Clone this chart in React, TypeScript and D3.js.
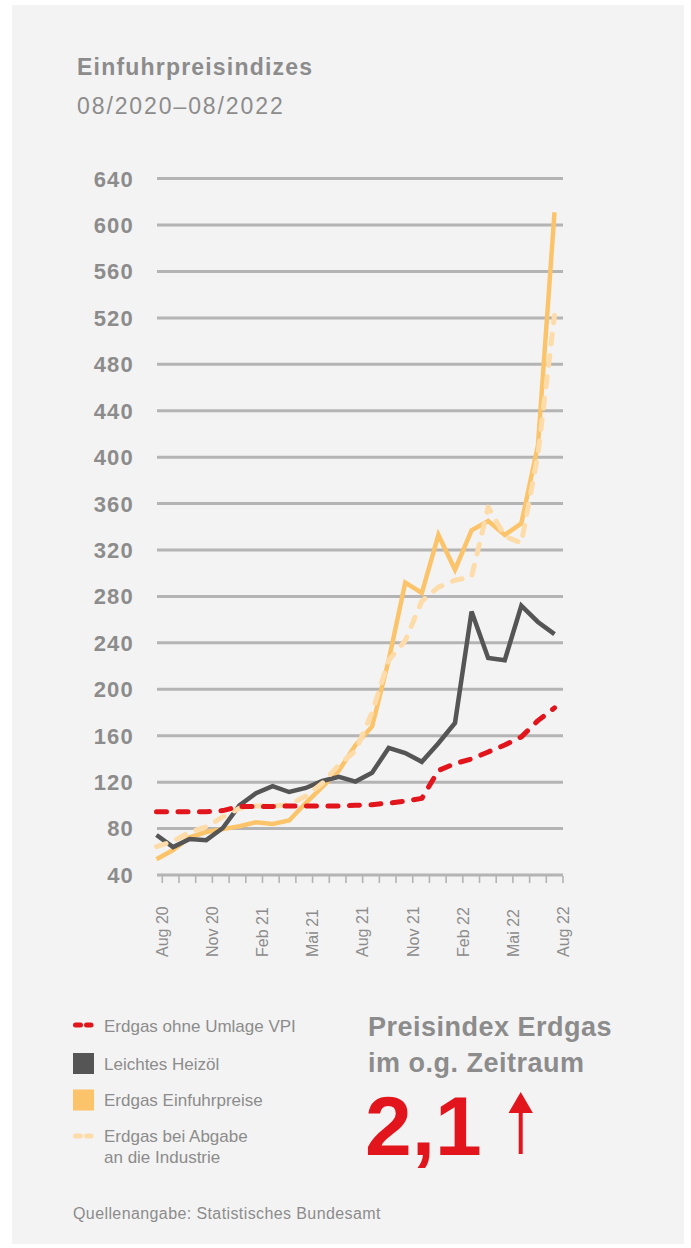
import React from "react";
import * as d3 from "d3";

const months = ["Aug 20","Sep 20","Okt 20","Nov 20","Dez 20","Jan 21","Feb 21","Mär 21","Apr 21","Mai 21","Jun 21","Jul 21","Aug 21","Sep 21","Okt 21","Nov 21","Dez 21","Jan 22","Feb 22","Mär 22","Apr 22","Mai 22","Jun 22","Jul 22","Aug 22"];
const tickLabels = ["Aug 20","Nov 20","Feb 21","Mai 21","Aug 21","Nov 21","Feb 22","Mai 22","Aug 22"];
const yTicks = [40,80,120,160,200,240,280,320,360,400,440,480,520,560,600,640];

const erdgasVPI = [94.5,94.5,94.5,94.5,95.5,99,99,99,99.5,99.5,99.5,99.5,100,100.5,102,103.5,106,130,136,140,146,152,159,173,184];
const heizoel = [74.5,64,71,70,80.5,100,110.5,116.5,111.5,115,121,124.5,120.5,128,149.5,145,137.5,153.5,171,267,227,225,272,258,247.5];
const einfuhr = [53.5,61.5,72.5,77,79.5,82,85.5,84,87,102,116,130,152,168,225,292,283,333,303,337,345,333,343,410,611];
const industrie = [64.5,69,77,81.5,90,97.5,99.5,99.5,100.5,108,119,135,147,180,225,242,276,288,294,297,357,332,326,402,522];

const legendItems = [
  { label: ["Erdgas ohne Umlage VPI"], kind: "dash", color: "#e2141c" },
  { label: ["Leichtes Heizöl"], kind: "box", color: "#555555" },
  { label: ["Erdgas Einfuhrpreise"], kind: "box", color: "#fcc46a" },
  { label: ["Erdgas bei Abgabe", "an die Industrie"], kind: "dash", color: "#fddcaa" },
];

const FONT = "'Liberation Sans', Arial, Helvetica, sans-serif";
const GRAY = "#8c8c8c";

export default function App() {
  const y = d3.scaleLinear().domain([40, 640]).range([875, 178.6]);
  const xTick = d3.scalePoint<string>().domain(months).range([162.3, 563]);
  const xLine = d3.scalePoint<string>().domain(months).range([156.5, 554.5]);
  const line = d3
    .line<number>()
    .x((_, i) => xLine(months[i]) as number)
    .y((d) => y(d));

  const series = [
    { data: einfuhr, color: "#fcc46a", dash: undefined as string | undefined, w: 4.5 },
    { data: heizoel, color: "#555555", dash: undefined, w: 4.5 },
    { data: industrie, color: "#fddcaa", dash: "10 11.5", w: 5 },
    { data: erdgasVPI, color: "#e2141c", dash: "10 11.5", w: 5 },
  ];

  const legendY = [1025, 1063.5, 1100, 1136];
  const legendBase = [1031.7, 1070, 1106, 1141.7];

  return (
    <svg
      width={691}
      height={1248}
      style={{ position: "absolute", left: 0, top: 0, background: "#ffffff" }}
      fontFamily={FONT}
    >
      <rect x={12} y={5} width={672} height={1239} fill="#f3f3f3" />

      <text x={77} y={75} fontSize={23} fontWeight="bold" fill={GRAY} letterSpacing={1.2}>
        Einfuhrpreisindizes
      </text>
      <text x={77} y={114} fontSize={23} fill={GRAY} letterSpacing={1.9}>
        08/2020–08/2022
      </text>

      {yTicks.map((v) => (
        <g key={v}>
          <line x1={157} x2={563} y1={y(v)} y2={y(v)} stroke="#b4b4b4" strokeWidth={3} />
          <text
            x={134}
            y={y(v)}
            dy="0.36em"
            textAnchor="end"
            fontSize={22}
            fontWeight="bold"
            fill={GRAY}
            letterSpacing={1.2}
          >
            {v}
          </text>
        </g>
      ))}

      {months.map((m) => (
        <line
          key={m}
          x1={xTick(m)}
          x2={xTick(m)}
          y1={876}
          y2={883}
          stroke="#b4b4b4"
          strokeWidth={1.6}
        />
      ))}
      {tickLabels.map((m) => (
        <text
          key={m}
          transform={`translate(${(xTick(m) as number) + 5.8},957) rotate(-90)`}
          fontSize={16}
          fill={GRAY}
        >
          {m}
        </text>
      ))}

      {series.map((s, k) => (
        <path
          key={k}
          d={line(s.data) as string}
          fill="none"
          stroke={s.color}
          strokeWidth={s.w}
          strokeDasharray={s.dash}
          strokeLinecap={s.dash ? "round" : "butt"}
          strokeLinejoin={s.dash ? "round" : "miter"}
        />
      ))}

      {legendItems.map((it, i) => (
        <g key={i}>
          {it.kind === "box" ? (
            <rect x={73} y={legendY[i] - 10.5} width={21} height={21} fill={it.color} />
          ) : (
            <g stroke={it.color} strokeWidth={5} strokeLinecap="round">
              <line x1={75.5} x2={80.5} y1={legendY[i]} y2={legendY[i]} />
              <line x1={86.5} x2={91} y1={legendY[i]} y2={legendY[i]} />
            </g>
          )}
          {it.label.map((t, j) => (
            <text key={j} x={104} y={legendBase[i] + j * 21} fontSize={17} fill={GRAY}>
              {t}
            </text>
          ))}
        </g>
      ))}

      <text x={368} y={1036} fontSize={27} fontWeight="bold" fill={GRAY} letterSpacing={0.5}>
        Preisindex Erdgas
      </text>
      <text x={368} y={1071.7} fontSize={27} fontWeight="bold" fill={GRAY} letterSpacing={0.5}>
        im o.g. Zeitraum
      </text>
      <text x={365} y={1155} fontSize={84} fontWeight="bold" fill="#e2141c">
        2,1
      </text>
      <line x1={520.7} x2={520.7} y1={1110} y2={1154} stroke="#e2141c" strokeWidth={4} />
      <path d="M508.5,1113 L520.7,1092 L532.9,1113 Z" fill="#e2141c" />

      <text x={73} y={1219} fontSize={16} fill={GRAY} letterSpacing={0.4}>
        Quellenangabe: Statistisches Bundesamt
      </text>
    </svg>
  );
}
